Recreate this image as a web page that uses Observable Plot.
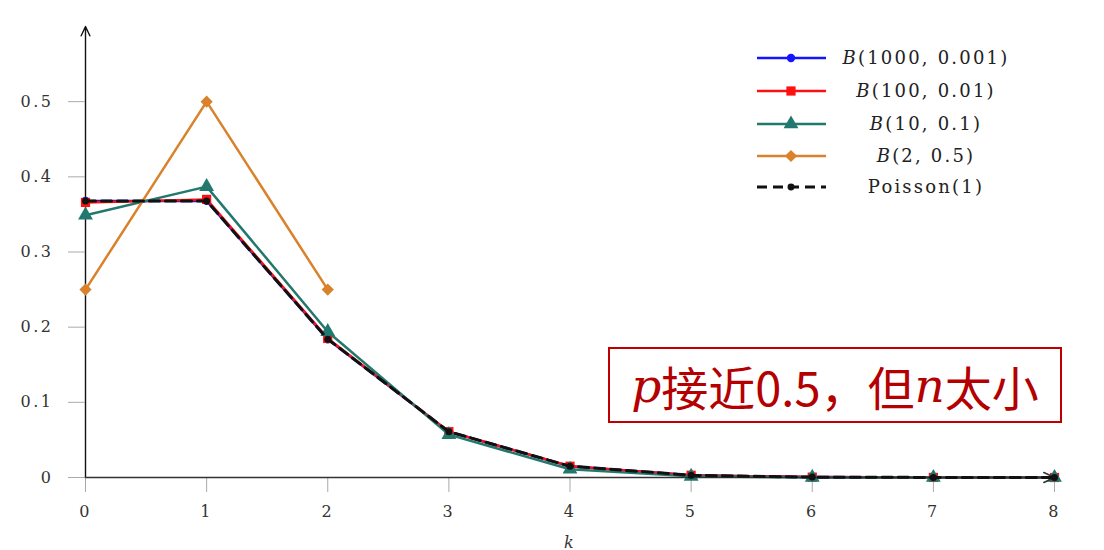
<!DOCTYPE html>
<html><head><meta charset="utf-8">
<script src="https://cdn.jsdelivr.net/npm/d3@7"></script>
<script src="https://cdn.jsdelivr.net/npm/@observablehq/plot@0.6"></script>
<style>
body{margin:0;background:#fff;}
#wrap{position:relative;width:1104px;height:550px;overflow:hidden;background:#fff;}
#legend{position:absolute;left:0;top:0;}
#note{position:absolute;left:608px;top:347px;width:450px;height:72px;border:2px solid #c00000;
 color:#b40000;font-family:"Noto Sans CJK SC","Noto Sans",sans-serif;font-size:47px;
 display:flex;align-items:center;justify-content:center;white-space:nowrap;background:#fff;}
#note i{font-family:"DejaVu Serif","Liberation Serif",serif;font-style:italic;}
</style></head><body><div id="wrap"></div>
<script>
// k values
const ks = [0, 1, 2, 3, 4, 5, 6, 7, 8];
// series values
const b1000 = [0.368, 0.368, 0.184, 0.061, 0.015, 0.003, 0.0005, 0.0001, 0.0000];
const b100  = [0.366, 0.370, 0.185, 0.061, 0.015, 0.003, 0.0005, 0.0001, 0.0000];
const b10   = [0.349, 0.387, 0.194, 0.057, 0.011, 0.0015, 0.0001, 0.0000, 0.0000];
const b2    = [0.25, 0.50, 0.25];
const pois  = [0.368, 0.368, 0.184, 0.061, 0.015, 0.003, 0.0005, 0.0001, 0.0000];
// legend labels
const seriesNames = ["B(1000, 0.001)", "B(100, 0.01)", "B(10, 0.1)", "B(2, 0.5)", "Poisson(1)"];
const colors = ["#1414ff", "#ff1010", "#22786e", "#d9822b", "#111111"];
const symbols = ["circle", "square", "triangle", "diamond2", "circle"];
const yTicks = [0, 0.1, 0.2, 0.3, 0.4, 0.5];
const xTicks = ks;
const xMax = 8, yMax = 0.6;

const allSeries = [b1000, b100, b10, b2, pois];
const rows = allSeries.map((vals, i) => vals.map((p, j) => ({k: ks[j], p, s: seriesNames[i]})));

const serif = "'DejaVu Serif','Liberation Serif',serif";
const marks = [
  Plot.arrow([{x1: 0, y1: 0, x2: 0, y2: yMax}], {x1: "x1", y1: "y1", x2: "x2", y2: "y2", stroke: "#111", strokeWidth: 1.4, headLength: 11, headAngle: 50}),
  Plot.axisY({ticks: yTicks, tickSize: 17, tickPadding: 15, tickFormat: d => d === 0 ? "0" : d.toFixed(1), label: null, stroke: "#aaa", fill: "#333", fontSize: 16}),
  Plot.axisX({ticks: xTicks, tickSize: 15, tickPadding: 13, tickFormat: d => String(d), label: "k", labelAnchor: "center", labelOffset: 70, labelArrow: "none", stroke: "#aaa", fill: "#333", fontSize: 16}),
];
const widths = [2.5, 2.5, 2.5, 2.5, 3];
const rs = [4.2, 5.2, 5.5, 5.5, 4];
[0, 1, 2, 3].forEach(i => {
  marks.push(Plot.line(rows[i], {x: "k", y: "p", stroke: colors[i], strokeWidth: widths[i]}));
  marks.push(Plot.dot(rows[i], {x: "k", y: "p", fill: colors[i], stroke: "none", symbol: symbols[i], r: rs[i]}));
});
marks.push(Plot.arrow([{x1: 0, y1: 0, x2: xMax, y2: 0}], {x1: "x1", y1: "y1", x2: "x2", y2: "y2", stroke: "#333", strokeWidth: 1.6, headLength: 11, headAngle: 50}));
marks.push(Plot.line(rows[4], {x: "k", y: "p", stroke: colors[4], strokeWidth: widths[4], strokeDasharray: "10,6"}));
marks.push(Plot.dot(rows[4], {x: "k", y: "p", fill: colors[4], stroke: "none", symbol: "circle", r: 3.5}));

const chart = Plot.plot({
  width: 1104, height: 550,
  marginLeft: 85, marginRight: 50, marginTop: 26, marginBottom: 73,
  style: {fontFamily: serif, fontSize: "16px", background: "transparent", letterSpacing: "2.5px"},
  x: {domain: [0, xMax]},
  y: {domain: [0, yMax]},
  marks
});
const wrap = document.getElementById("wrap");
wrap.appendChild(chart);
d3.select(chart).selectAll("[aria-label='x-axis label'] text").style("font-style", "italic");

// legend
const lg = d3.select(wrap).append("svg").attr("id", "legend").attr("width", 1104).attr("height", 550);
const rowY = [58, 91, 124, 156, 187];
seriesNames.forEach((name, i) => {
  const g = lg.append("g").attr("transform", `translate(0,${rowY[i]})`);
  g.append("line").attr("x1", 757).attr("x2", 826).attr("y1", 0).attr("y2", 0)
    .attr("stroke", colors[i]).attr("stroke-width", widths[i])
    .attr("stroke-dasharray", i === 4 ? "10,6" : null);
  const symMap = {circle: d3.symbolCircle, square: d3.symbolSquare, triangle: d3.symbolTriangle, diamond2: d3.symbolDiamond2};
  const size = Math.PI * rs[i] * rs[i];
  g.append("path").attr("transform", "translate(791,0)")
    .attr("d", d3.symbol(symMap[symbols[i]], i === 4 ? Math.PI * 12 : size)()).attr("fill", colors[i]);
  const t = g.append("text").attr("x", 926).attr("y", 0).attr("dy", "0.35em").attr("text-anchor", "middle")
    .attr("font-family", serif).attr("font-size", 18).attr("letter-spacing", "2.2px").attr("fill", "#222");
  if (name.startsWith("B")) {
    t.append("tspan").attr("font-style", "italic").text("B");
    t.append("tspan").text(name.slice(1));
  } else t.text(name);
});

// annotation
const note = document.createElement("div");
note.id = "note";
note.innerHTML = "<i>p</i>接近0.5，但<i>n</i>太小";
wrap.appendChild(note);
</script></body></html>
